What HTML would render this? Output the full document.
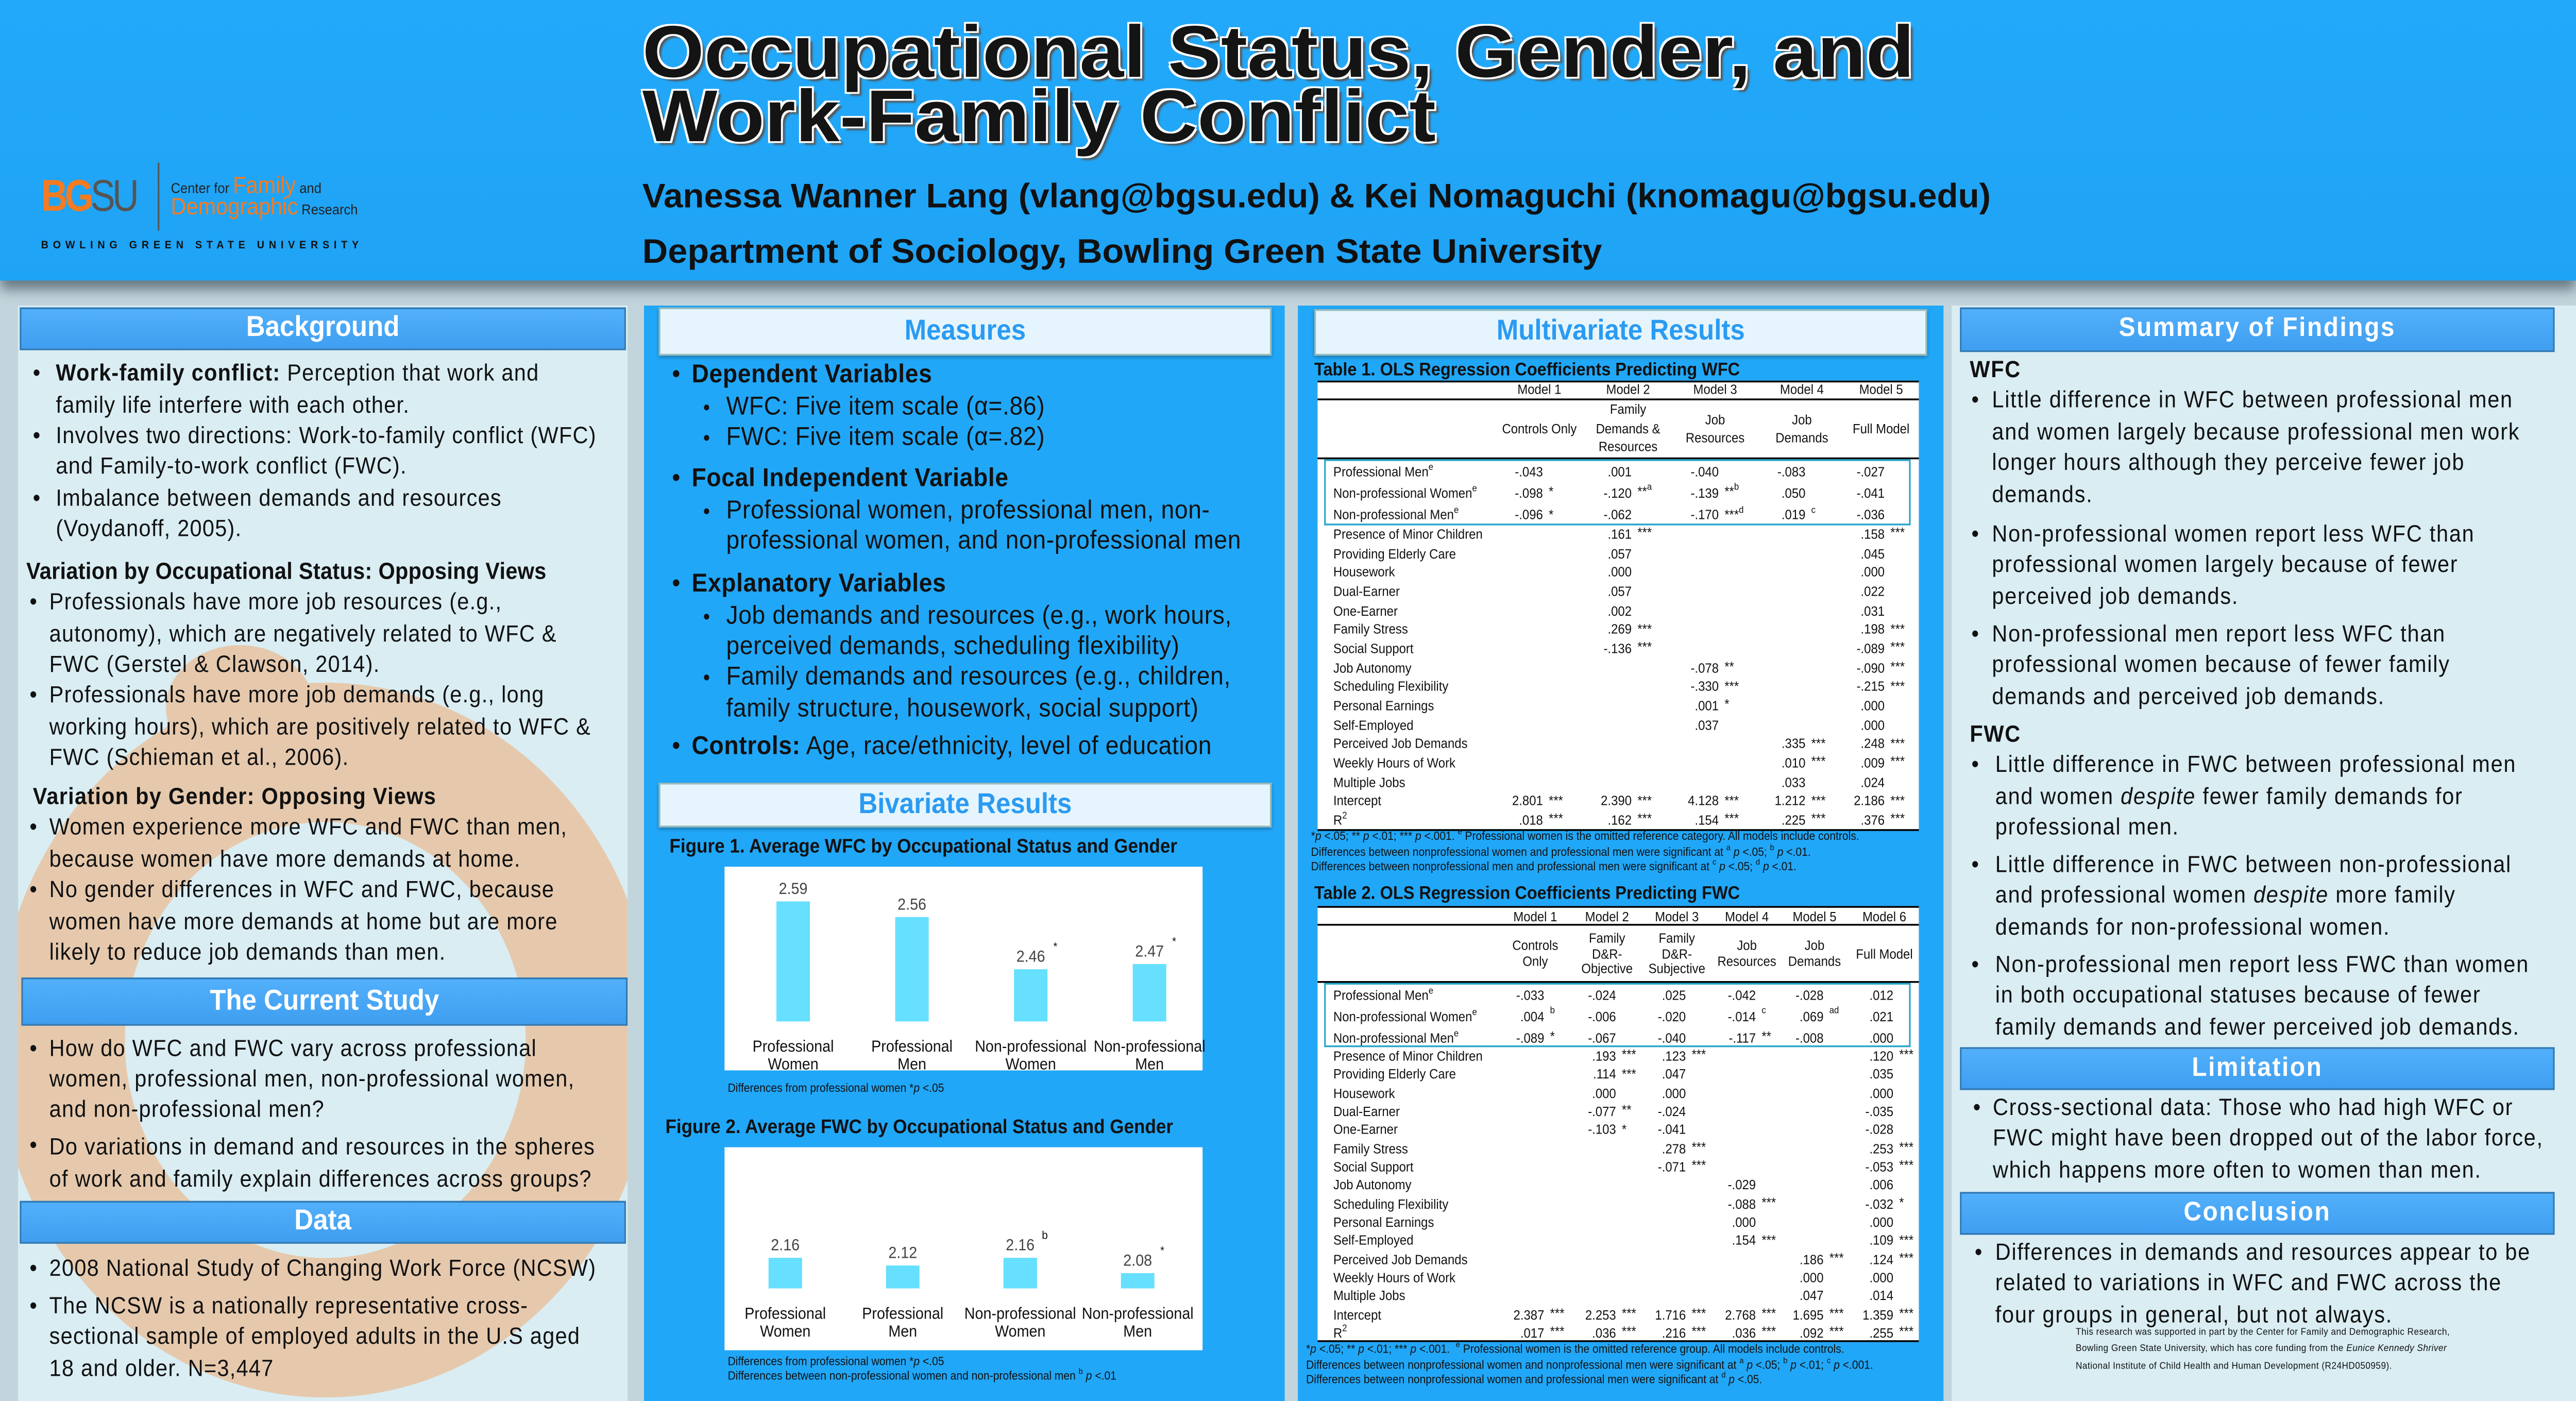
<!DOCTYPE html>
<html><head><meta charset="utf-8">
<style>
html,body{margin:0;padding:0;width:100%;height:100%;overflow:hidden;background:#b9ccd4;}
#stage{position:absolute;left:0;top:0;width:1568px;height:784px;transform:scale(3.4675,3.468);transform-origin:0 0;font-family:"Liberation Sans",Arial,sans-serif;color:#111;overflow:hidden;background:linear-gradient(#9fb6c0,#c3d5dc 40px,#c3d5dc);}
.abs{position:absolute;white-space:nowrap;}
.hdr{position:absolute;left:0;top:0;width:1568px;height:157px;background:linear-gradient(#23a9fa,#1fa3f5);box-shadow:0 5px 7px rgba(40,60,70,.6);}
.panel-pale{position:absolute;background:#d9edf3;}
.panel-blue{position:absolute;background:#21a7f8;}
.secbar{position:absolute;background:linear-gradient(#52b0fb,#3f9ef0);border:1px solid #2f79b5;color:#fff;font-weight:bold;text-align:center;box-sizing:border-box;}
.palebar{position:absolute;background:#e6f5fd;border:1px solid #9bb;color:#2a9bf2;font-weight:bold;text-align:center;box-sizing:border-box;box-shadow:0 1px 2px rgba(0,0,0,.3);}
.lc{font-size:13px;letter-spacing:0.4px;line-height:17.4px;}
.rc{font-size:13px;letter-spacing:0.55px;line-height:17.6px;}
.mc{font-size:14.5px;letter-spacing:0.2px;line-height:17.4px;}
.tb{font-size:7.5px;color:#111;}
.fn{font-size:6.6px;color:#111;}
sup{font-size:70%;line-height:0;vertical-align:super;}
</style></head>
<body>
<div id="stage">

<div class="hdr"></div>

<!-- logo -->
<div class="abs" style="left:25px;top:96px;font-size:25px;font-weight:bold;letter-spacing:-2px;transform:scaleX(0.9);transform-origin:0 0;"><span style="color:#f47b20">BG</span><span style="color:#555;font-weight:normal">SU</span></div>
<div class="abs" style="left:96px;top:91px;width:1px;height:38px;background:#555;"></div>
<div class="abs" style="left:104px;top:96px;font-size:8px;color:#222;"><span>Center for </span><span style="color:#f47b20;font-size:13px;">Family</span><span> and</span></div>
<div class="abs" style="left:104px;top:108px;font-size:8px;color:#222;"><span style="color:#f47b20;font-size:13px;">Demographic</span><span> Research</span></div>
<div class="abs" style="left:25px;top:134px;font-size:6.2px;font-weight:bold;letter-spacing:2.75px;color:#111;">BOWLING GREEN STATE UNIVERSITY</div>

<!-- title -->
<div class="abs" style="left:391px;top:12px;font-size:41px;line-height:35.5px;font-weight:bold;color:#141414;transform:scaleX(1.18);transform-origin:0 0;text-shadow:1px 1px 0 #fff,-1px -1px 0 #fff,1px -1px 0 #fff,-1px 1px 0 #fff,2px 2px 1px #555;">Occupational Status, Gender, and<br>Work-Family Conflict</div>
<div class="abs" style="left:391px;top:100px;font-size:19px;font-weight:bold;color:#111;transform:scaleX(1.11);transform-origin:0 0;">Vanessa Wanner Lang (vlang@bgsu.edu) &amp; Kei Nomaguchi (knomagu@bgsu.edu)</div>
<div class="abs" style="left:391px;top:131px;font-size:19px;font-weight:bold;color:#111;transform:scaleX(1.13);transform-origin:0 0;">Department of Sociology, Bowling Green State University</div>

<!-- column 1 -->
<div class="panel-pale" style="left:11px;top:171px;width:371px;height:613px;overflow:hidden;">
  <div style="position:absolute;left:-13px;top:211px;width:400px;height:400px;border-radius:50%;box-sizing:border-box;border:78px solid #e6c9ad;"></div>
  <div style="position:absolute;left:90px;top:190px;width:90px;height:70px;border-radius:50%;background:#e6c9ad;"></div>
</div>
<div class="secbar" style="left:12px;top:172px;width:369px;height:24px;font-size:16px;line-height:22px;">Background</div>

<div class="abs lc" style="left:20px;top:200.2px;">•<br><br>•<br><br>•</div>
<div class="abs lc" style="left:34px;top:200.2px;"><b>Work-family conflict:</b> Perception that work and<br>family life interfere with each other.<br>Involves two directions: Work-to-family conflict (WFC)<br>and Family-to-work conflict (FWC).<br>Imbalance between demands and resources<br>(Voydanoff, 2005).</div>
<div class="abs lc" style="left:16px;top:311px;font-weight:bold;letter-spacing:0.1px;">Variation by Occupational Status: Opposing Views</div>
<div class="abs lc" style="left:18px;top:328.2px;">•<br><br><br>•</div>
<div class="abs lc" style="left:30px;top:328.2px;">Professionals have more job resources (e.g.,<br>autonomy), which are negatively related to WFC &amp;<br>FWC (Gerstel &amp; Clawson, 2014).<br>Professionals have more job demands (e.g., long<br>working hours), which are positively related to WFC &amp;<br>FWC (Schieman et al., 2006).</div>
<div class="abs lc" style="left:20px;top:437px;font-weight:bold;">Variation by Gender: Opposing Views</div>
<div class="abs lc" style="left:18px;top:454.4px;">•<br><br>•</div>
<div class="abs lc" style="left:30px;top:454.4px;">Women experience more WFC and FWC than men,<br>because women have more demands at home.<br>No gender differences in WFC and FWC, because<br>women have more demands at home but are more<br>likely to reduce job demands than men.</div>

<div class="secbar" style="left:13px;top:547px;width:369px;height:27px;font-size:16px;line-height:25px;">The Current Study</div>
<div class="abs lc" style="left:18px;top:577.6px;">•<br><br><br><span style="line-height:21px">•</span></div>
<div class="abs lc" style="left:30px;top:577.6px;">How do WFC and FWC vary across professional<br>women, professional men, non-professional women,<br>and non-professional men?</div>
<div class="abs lc" style="left:30px;top:633.3px;">Do variations in demand and resources in the spheres<br>of work and family explain differences across groups?</div>

<div class="secbar" style="left:12px;top:671.5px;width:369px;height:24px;font-size:16px;line-height:22px;">Data</div>
<div class="abs lc" style="left:18px;top:700.8px;">•</div>
<div class="abs lc" style="left:30px;top:700.8px;">2008 National Study of Changing Work Force (NCSW)</div>
<div class="abs lc" style="left:18px;top:722px;">•</div>
<div class="abs lc" style="left:30px;top:722px;">The NCSW is a nationally representative cross-<br>sectional sample of employed adults in the U.S aged<br>18 and older. N=3,447</div>

<!-- column 2 -->
<div class="panel-blue" style="left:392px;top:171px;width:390px;height:613px;"></div>
<div class="palebar" style="left:401px;top:172px;width:373px;height:27px;font-size:16px;line-height:25px;">Measures</div>
<div class="abs mc" style="left:409px;top:202.2px;">•</div>
<div class="abs mc" style="left:421px;top:202.2px;font-weight:bold;">Dependent Variables</div>
<div class="abs mc" style="left:428px;top:219.7px;font-size:12px;">•<br>•</div>
<div class="abs mc" style="left:442px;top:219.7px;">WFC: Five item scale (α=.86)<br>FWC: Five item scale (α=.82)</div>
<div class="abs mc" style="left:409px;top:260.4px;">•</div>
<div class="abs mc" style="left:421px;top:260.4px;font-weight:bold;">Focal Independent Variable</div>
<div class="abs mc" style="left:428px;top:277.7px;font-size:12px;">•</div>
<div class="abs mc" style="left:442px;top:277.7px;">Professional women, professional men, non-<br>professional women, and non-professional men</div>
<div class="abs mc" style="left:409px;top:318.5px;">•</div>
<div class="abs mc" style="left:421px;top:318.5px;font-weight:bold;">Explanatory Variables</div>
<div class="abs mc" style="left:428px;top:336.5px;font-size:12px;">•<br><br>•</div>
<div class="abs mc" style="left:442px;top:336.5px;">Job demands and resources (e.g., work hours,<br>perceived demands, scheduling flexibility)<br>Family demands and resources (e.g., children,<br>family structure, housework, social support)</div>
<div class="abs mc" style="left:409px;top:410.3px;">•</div>
<div class="abs mc" style="left:421px;top:410.3px;"><b>Controls:</b> Age, race/ethnicity, level of education</div>

<div class="palebar" style="left:401px;top:438px;width:373px;height:25px;font-size:16px;line-height:23px;">Bivariate Results</div>
<div class="abs" style="left:407.5px;top:467.5px;font-size:11px;font-weight:bold;">Figure 1. Average WFC by Occupational Status and Gender</div>
<div class="abs" style="left:405px;top:624.5px;font-size:11px;font-weight:bold;">Figure 2. Average FWC by Occupational Status and Gender</div>
<div class="abs fn" style="left:443px;top:606px;">Differences from professional women *<i>p</i> &lt;.05</div>
<div class="abs fn" style="left:443px;top:758.5px;line-height:8.6px;">Differences from professional women *<i>p</i> &lt;.05<br>Differences between non-professional women and non-professional men <sup>b</sup> <i>p</i> &lt;.01</div>

<svg id="charts" style="position:absolute;left:0;top:0;" width="1568" height="784" viewBox="0 0 1568 784"></svg>

<!-- column 3 -->
<div class="panel-blue" style="left:790px;top:171px;width:393px;height:613px;"></div>
<div class="palebar" style="left:800px;top:172.6px;width:373px;height:26px;font-size:16px;line-height:24px;">Multivariate Results</div>
<div class="abs" style="left:800px;top:201.5px;font-size:10.2px;font-weight:bold;">Table 1. OLS Regression Coefficients Predicting WFC</div>
<div class="abs" style="left:802px;top:212.6px;width:366px;height:251.5px;background:#fff;"></div>
<div class="abs" style="left:800px;top:494.5px;font-size:10.2px;font-weight:bold;">Table 2. OLS Regression Coefficients Predicting FWC</div>
<div class="abs" style="left:802px;top:507px;width:366px;height:243.6px;background:#fff;"></div>
<div id="tables"></div>
<div class="abs fn" style="left:798px;top:465.3px;line-height:8.6px;">*<i>p</i> &lt;.05; ** <i>p</i> &lt;.01; *** <i>p</i> &lt;.001. <sup>e</sup> Professional women is the omitted reference category. All models include controls.<br>Differences between nonprofessional women and professional men were significant at <sup>a</sup> <i>p</i> &lt;.05; <sup>b</sup> <i>p</i> &lt;.01.<br>Differences between nonprofessional men and professional men were significant at <sup>c</sup> <i>p</i> &lt;.05; <sup>d</sup> <i>p</i> &lt;.01.</div>
<div class="abs fn" style="left:795px;top:752px;line-height:8.6px;">*<i>p</i> &lt;.05; ** <i>p</i> &lt;.01; *** <i>p</i> &lt;.001. &nbsp;<sup>e</sup> Professional women is the omitted reference group. All models include controls.<br>Differences between nonprofessional women and nonprofessional men were significant at <sup>a</sup> <i>p</i> &lt;.05; <sup>b</sup> <i>p</i> &lt;.01; <sup>c</sup> <i>p</i> &lt;.001.<br>Differences between nonprofessional women and professional men were significant at <sup>d</sup> <i>p</i> &lt;.05.</div>

<!-- column 4 -->
<div class="panel-pale" style="left:1188px;top:171px;width:380px;height:613px;"></div>
<div class="secbar" style="left:1193px;top:172px;width:362px;height:24.5px;font-size:15px;line-height:22px;letter-spacing:0.8px;">Summary of Findings</div>
<div class="abs rc" style="left:1199px;top:198px;font-weight:bold;">WFC</div>
<div class="abs rc" style="left:1200px;top:215.3px;">•</div>
<div class="abs rc" style="left:1212.5px;top:215.3px;">Little difference in WFC between professional men<br>and women largely because professional men work<br>longer hours although they perceive fewer job<br>demands.</div>
<div class="abs rc" style="left:1200px;top:289.7px;">•</div>
<div class="abs rc" style="left:1212.5px;top:289.7px;">Non-professional women report less WFC than<br>professional women largely because of fewer<br>perceived job demands.</div>
<div class="abs rc" style="left:1200px;top:345.7px;">•</div>
<div class="abs rc" style="left:1212.5px;top:345.7px;">Non-professional men report less WFC than<br>professional women because of fewer family<br>demands and perceived job demands.</div>
<div class="abs rc" style="left:1199px;top:401.7px;font-weight:bold;">FWC</div>
<div class="abs rc" style="left:1200px;top:419.2px;">•</div>
<div class="abs rc" style="left:1214.5px;top:419.2px;">Little difference in FWC between professional men<br>and women <i>despite</i> fewer family demands for<br>professional men.</div>
<div class="abs rc" style="left:1200px;top:474.7px;">•</div>
<div class="abs rc" style="left:1214.5px;top:474.7px;">Little difference in FWC between non-professional<br>and professional women <i>despite</i> more family<br>demands for non-professional women.</div>
<div class="abs rc" style="left:1200px;top:530.7px;">•</div>
<div class="abs rc" style="left:1214.5px;top:530.7px;">Non-professional men report less FWC than women<br>in both occupational statuses because of fewer<br>family demands and fewer perceived job demands.</div>
<div class="secbar" style="left:1193px;top:585.5px;width:362px;height:24.5px;font-size:15px;line-height:22px;letter-spacing:0.8px;">Limitation</div>
<div class="abs rc" style="left:1201px;top:610.5px;">•</div>
<div class="abs rc" style="left:1213px;top:610.5px;">Cross-sectional data: Those who had high WFC or<br>FWC might have been dropped out of the labor force,<br>which happens more often to women than men.</div>
<div class="secbar" style="left:1193px;top:666.5px;width:362px;height:24.5px;font-size:15px;line-height:22px;letter-spacing:0.8px;">Conclusion</div>
<div class="abs rc" style="left:1202px;top:691.5px;">•</div>
<div class="abs rc" style="left:1214.5px;top:691.5px;">Differences in demands and resources appear to be<br>related to variations in WFC and FWC across the<br>four groups in general, but not always.</div>
<div class="abs" style="left:1263.5px;top:741.5px;font-size:5.4px;line-height:9.5px;letter-spacing:0.15px;">This research was supported in part by the Center for Family and Demographic Research,<br>Bowling Green State University, which has core funding from the <i>Eunice Kennedy Shriver</i><br>National Institute of Child Health and Human Development (R24HD050959).</div>

<script>
// ---------- fit stage to viewport ----------
(function(){
  const st = document.getElementById("stage");
  const w = document.documentElement.clientWidth || window.innerWidth || 5437;
  const h = document.documentElement.clientHeight || window.innerHeight || 2719;
  st.style.transform = "scale(" + (w/1568) + "," + (h/784) + ")";
})();

// ---------- chart data ----------
const categories = [["Professional","Women"],["Professional","Men"],["Non-professional","Women"],["Non-professional","Men"]];
const wfcValues = [2.59, 2.56, 2.46, 2.47];
const wfcMarks = ["", "", "*", "*"];
const fwcValues = [2.16, 2.12, 2.16, 2.08];
const fwcMarks = ["", "", "b", "*"];
const wfcValueLabels = ["2.59", "2.56", "2.46", "2.47"];
const fwcValueLabels = ["2.16", "2.12", "2.16", "2.08"];

const NS = "http://www.w3.org/2000/svg";
const svg = document.getElementById("charts");
function mk(tag, attrs){ const e=document.createElementNS(NS,tag); for(const k in attrs) e.setAttribute(k,attrs[k]); return e; }

const chart1 = {x0:441, y0:485, w:291, h:114, base:571.6, min:2.36, ppu:292, c0:482.8, step:72.3, lab1:585.5, lab2:595.5};
const chart2 = {x0:441, y0:642, w:291, h:113.6, base:721, min:2.0, ppu:107, c0:478, step:71.5, lab1:735, lab2:745};
function xScale(ch, i){ return ch.c0 + i*ch.step; }
function yScale(ch, v){ return ch.base - (v - ch.min)*ch.ppu; }

function drawChart(ch, values, labels, marks, key){
  const bg = mk("rect",{x:ch.x0,y:ch.y0,width:ch.w,height:ch.h,fill:"#fff"});
  
  
  svg.appendChild(bg);
  values.forEach((v,i)=>{
    const xc = xScale(ch,i), yt = yScale(ch,v);
    const r = mk("rect",{x:xc-10.2,y:yt,width:20.4,height:ch.base-yt,fill:"#66e0fe"});
    
    
    svg.appendChild(r);
    const t = mk("text",{x:xc,y:yt-4.2,"text-anchor":"middle","font-size":"9","fill":"#444","font-family":"Liberation Sans, sans-serif"});
    t.textContent = labels[i];
    
    
    svg.appendChild(t);
    if(marks[i]){
      const m = mk("text",{x:xc+15,y:yt-10.5,"text-anchor":"middle","font-size":"6.5","fill":"#111","font-family":"Liberation Sans, sans-serif"});
      m.textContent = marks[i];
      
      
      svg.appendChild(m);
    }
    categories[i].forEach((s,j)=>{
      const c = mk("text",{x:xc,y:(j===0?ch.lab1:ch.lab2)+3,"text-anchor":"middle","font-size":"9","fill":"#111","font-family":"Liberation Sans, sans-serif"});
      c.textContent = s;
      
      
      svg.appendChild(c);
    });
  });
}
drawChart(chart1, wfcValues, wfcValueLabels, wfcMarks, "wfc-chart");
drawChart(chart2, fwcValues, fwcValueLabels, fwcMarks, "fwc-chart");

// ---------- tables ----------
const host = document.getElementById("tables");
function txt(x,y,html,align,cls,name){
  const d=document.createElement("div");
  d.className="abs "+(cls||"tb");
  d.style.left=x+"px"; d.style.top=y+"px";
  d.style.transform = align==="r"?"translate(-100%,-50%)":align==="c"?"translate(-50%,-50%)":"translate(0,-50%)";
  if(align==="c") d.style.textAlign="center";
  d.innerHTML=html;
  
  
  host.appendChild(d);
}
function line(x,y,w,h,color,name){
  const d=document.createElement("div");
  d.className="abs";
  d.style.cssText="left:"+x+"px;top:"+y+"px;width:"+w+"px;height:"+h+"px;background:"+color+";";
  
  
  host.appendChild(d);
}
function box(x,y,w,h,name){
  const d=document.createElement("div");
  d.className="abs";
  d.style.cssText="left:"+x+"px;top:"+y+"px;width:"+w+"px;height:"+h+"px;border:1.6px solid #2aa6cc;box-sizing:border-box;";
  
  
  host.appendChild(d);
}

const t1Labels = ["Professional Men<sup>e</sup>","Non-professional Women<sup>e</sup>","Non-professional Men<sup>e</sup>","Presence of Minor Children","Providing Elderly Care","Housework","Dual-Earner","One-Earner","Family Stress","Social Support","Job Autonomy","Scheduling Flexibility","Personal Earnings","Self-Employed","Perceived Job Demands","Weekly Hours of Work","Multiple Jobs","Intercept","R<sup>2</sup>"];
const t1Cells = [
 [["-.043",""],[".001",""],["-.040",""],["-.083",""],["-.027",""]],
 [["-.098","*"],["-.120","**<sup>a</sup>"],["-.139","**<sup>b</sup>"],[".050",""],["-.041",""]],
 [["-.096","*"],["-.062",""],["-.170","***<sup>d</sup>"],[".019","<sup>c</sup>"],["-.036",""]],
 [null,[".161","***"],null,null,[".158","***"]],
 [null,[".057",""],null,null,[".045",""]],
 [null,[".000",""],null,null,[".000",""]],
 [null,[".057",""],null,null,[".022",""]],
 [null,[".002",""],null,null,[".031",""]],
 [null,[".269","***"],null,null,[".198","***"]],
 [null,["-.136","***"],null,null,["-.089","***"]],
 [null,null,["-.078","**"],null,["-.090","***"]],
 [null,null,["-.330","***"],null,["-.215","***"]],
 [null,null,[".001","*"],null,[".000",""]],
 [null,null,[".037",""],null,[".000",""]],
 [null,null,null,[".335","***"],[".248","***"]],
 [null,null,null,[".010","***"],[".009","***"]],
 [null,null,null,[".033",""],[".024",""]],
 [["2.801","***"],["2.390","***"],["4.128","***"],["1.212","***"],["2.186","***"]],
 [[".018","***"],[".162","***"],[".154","***"],[".225","***"],[".376","***"]]
];
const t1Models = ["Model 1","Model 2","Model 3","Model 4","Model 5"];
const t1Sub = [["Controls Only"],["Family","Demands &amp;","Resources"],["Job","Resources"],["Job","Demands"],["Full Model"]];
const t1Cols = [937, 991, 1044, 1096.8, 1145];

const t2Labels = t1Labels;
const t2Cells = [
 [["-.033",""],["-.024",""],[".025",""],["-.042",""],["-.028",""],[".012",""]],
 [[".004","<sup>b</sup>"],["-.006",""],["-.020",""],["-.014","<sup>c</sup>"],[".069","<sup>ad</sup>"],[".021",""]],
 [["-.089","*"],["-.067",""],["-.040",""],["-.117","**"],["-.008",""],[".000",""]],
 [null,[".193","***"],[".123","***"],null,null,[".120","***"]],
 [null,[".114","***"],[".047",""],null,null,[".035",""]],
 [null,[".000",""],[".000",""],null,null,[".000",""]],
 [null,["-.077","**"],["-.024",""],null,null,["-.035",""]],
 [null,["-.103","*"],["-.041",""],null,null,["-.028",""]],
 [null,null,[".278","***"],null,null,[".253","***"]],
 [null,null,["-.071","***"],null,null,["-.053","***"]],
 [null,null,null,["-.029",""],null,[".006",""]],
 [null,null,null,["-.088","***"],null,["-.032","*"]],
 [null,null,null,[".000",""],null,[".000",""]],
 [null,null,null,[".154","***"],null,[".109","***"]],
 [null,null,null,null,[".186","***"],[".124","***"]],
 [null,null,null,null,[".000",""],[".000",""]],
 [null,null,null,null,[".047",""],[".014",""]],
 [["2.387","***"],["2.253","***"],["1.716","***"],["2.768","***"],["1.695","***"],["1.359","***"]],
 [[".017","***"],[".036","***"],[".216","***"],[".036","***"],[".092","***"],[".255","***"]]
];
const t2Models = ["Model 1","Model 2","Model 3","Model 4","Model 5","Model 6"];
const t2Sub = [["Controls","Only"],["Family","D&amp;R-","Objective"],["Family","D&amp;R-","Subjective"],["Job","Resources"],["Job","Demands"],["Full Model"]];
const t2Cols = [934.5, 978.2, 1020.7, 1063.3, 1104.5, 1147];

function drawTable(p){
  line(802,p.top,366,1.4,"#000",p.key+"-top-rule");
  line(802,p.rule2,366,1,"#000",p.key+"-model-rule");
  line(802,p.rule3,366,1.2,"#000",p.key+"-header-rule");
  line(802,p.bottom,366,1.2,"#000",p.key+"-bottom-rule");
  box(806,p.boxTop,357,p.boxH,p.key+"-focal-box");
  p.models.forEach((m,i)=>txt(p.cols[i],p.modelY,m,"c","tb",p.key+"-model-header"));
  p.sub.forEach((s,i)=>{
    const n=s.length;
    s.forEach((ln,j)=>txt(p.cols[i],p.subMid+(j-(n-1)/2)*p.subStep,ln,"c","tb",p.key+"-model-description"));
  });
  p.labels.forEach((lab,r)=>{
    const y = r<3 ? p.r0 + r*p.focalStep : p.r3 + (r-3)*p.rowStep;
    txt(811.6,y,lab,"l","tb",p.key+"-row-label");
    p.cells[r].forEach((c,i)=>{
      if(!c) return;
      txt(p.cols[i]+p.numOff,y,c[0],"r","tb",p.key+"-coefficient");
      if(c[1]) txt(p.cols[i]+p.numOff+3.5,y-0.8,c[1],"l","tb",p.key+"-significance");
    });
  });
}
drawTable({key:"table1",top:212.6,rule2:223.2,rule3:256,bottom:463.5,boxTop:256.7,boxH:37.5,models:t1Models,sub:t1Sub,cols:t1Cols,modelY:218.2,subMid:239.8,subStep:10.4,labels:t1Labels,cells:t1Cells,r0:263.6,focalStep:12.35,r3:299,rowStep:10.67,numOff:2.2});
drawTable({key:"table2",top:507,rule2:517.2,rule3:549.3,bottom:750.3,boxTop:550.3,boxH:35.5,models:t2Models,sub:t2Sub,cols:t2Cols,modelY:512.5,subMid:533.5,subStep:8.6,labels:t2Labels,cells:t2Cells,r0:556.7,focalStep:12.05,r3:591.1,rowStep:10.33,numOff:5.5});
</script>
</div>
</body></html>
